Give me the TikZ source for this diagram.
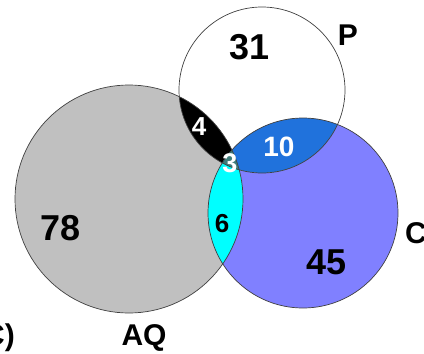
\documentclass[tikz,border=0pt]{standalone}
\usepackage{fontspec}
\setmainfont{Liberation Sans}
\definecolor{aqgray}{HTML}{C0C0C0}
\definecolor{cblue}{HTML}{8080FF}
\definecolor{pcblue}{HTML}{2072DC}
\definecolor{aqcyan}{HTML}{00FFFF}
\definecolor{triple}{HTML}{3E7C7A}
\definecolor{edge}{HTML}{404040}
\begin{document}
\begin{tikzpicture}[x=1pt,y=-1pt,
  num/.style={inner sep=0pt,font=\bfseries\fontsize{#1}{#1}\selectfont},
  setlabel/.style={inner sep=0pt,anchor=base,font=\bfseries\fontsize{30}{30}\selectfont},
  outline/.style={draw=edge,line width=0.7pt}]
\useasboundingbox (0,0) rectangle (424,354);
\def\AQc{(129,199) circle[radius=114]}
\def\Pc{(262,90) circle[radius=83]}
\def\Cc{(303,213) circle[radius=95]}
% base fills
\fill[aqgray] \AQc;
\fill[cblue] \Cc;
\fill[white] \Pc;
% AQ and P
\begin{scope}
  \clip \AQc;
  \fill[black] \Pc;
\end{scope}
% P and C
\begin{scope}
  \clip \Pc;
  \fill[pcblue] \Cc;
\end{scope}
% AQ and C
\begin{scope}
  \clip \AQc;
  \fill[aqcyan] \Cc;
\end{scope}
% triple
\begin{scope}
  \clip \AQc;
  \clip \Pc;
  \fill[triple] \Cc;
\end{scope}
% outlines
\draw[outline] \AQc;
\draw[outline] \Pc;
\draw[outline] \Cc;
% region counts
\node[num=36] (n31) at (250,47) {31};
\node[num=36] (n78) at (61,228) {78};
\node[num=36] (n45) at (327,262) {45};
\node[num=28,text=white] (n10) at (279,147) {10};
\node[num=26,text=white] (n4) at (199,127) {4};
\node[num=27,text=white] (n3) at (230,163) {3};
\node[num=26] (n6) at (222,224) {6};
% set labels
\node[setlabel] (lP) at (348,45) {P};
\node[setlabel] (lC) at (416,243) {C};
\node[setlabel] (lAQ) at (144,345) {AQ};
\node[setlabel] (lpanel) at (-1,345) {C)};
\end{tikzpicture}
\end{document}
